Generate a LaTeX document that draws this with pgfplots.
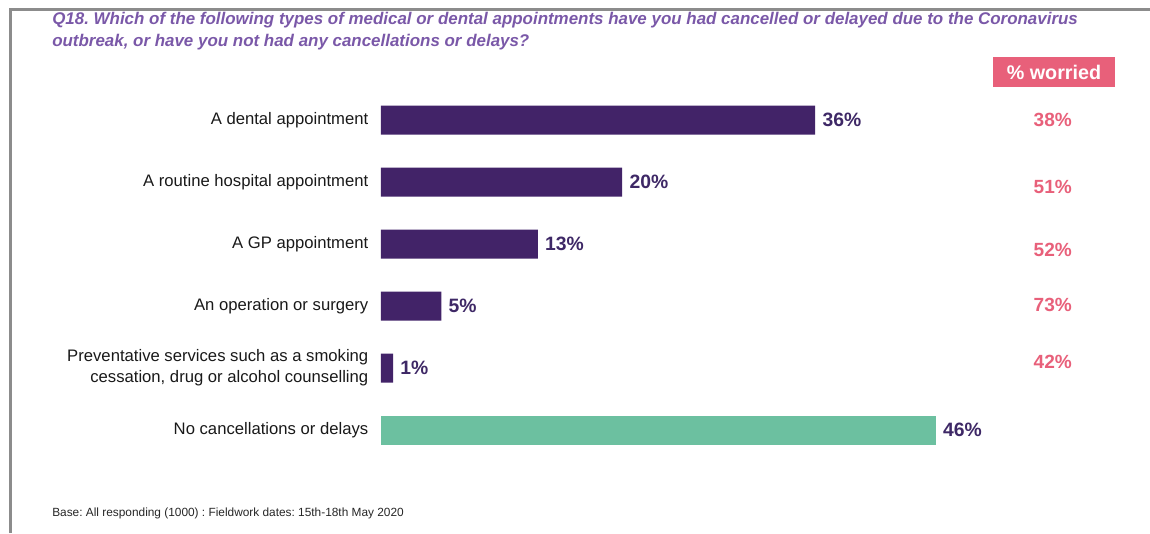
\documentclass[border=0pt]{standalone}
\usepackage{fontspec}
\setmainfont{Liberation Sans}
\usepackage{pgfplots}
\pgfplotsset{compat=1.18}

\definecolor{barpurple}{RGB}{66,35,104}
\definecolor{labpurple}{RGB}{62,40,102}
\definecolor{titlepurple}{RGB}{122,88,168}
\definecolor{nogreen}{RGB}{108,192,160}
\definecolor{worrypink}{RGB}{232,96,122}
\definecolor{framegray}{RGB}{140,140,140}

\begin{document}
\frenchspacing
\begin{tikzpicture}[x=0.75pt,y=0.75pt]
% page in pixel units (1150 x 533), y counted from the bottom
\path[use as bounding box] (0,0) rectangle (1150,533);
\coordinate (axisorigin) at (381,72);
\draw[framegray, line width=2.25pt] (10,0) -- (10,523) -- (1150,523);

\node[anchor=north west, align=left, text=titlepurple, inner sep=0pt,
      font=\fontsize{12.7}{16.5}\selectfont\bfseries\itshape] at (52,521)
  {Q18. Which of the following types of medical or dental appointments have you had cancelled or delayed due to the Coronavirus\\
   outbreak, or have you not had any cancellations or delays?};

\node[fill=worrypink, text=white, inner sep=0pt, minimum width=91.5pt, minimum height=22.5pt,
      font=\fontsize{14.8}{16}\selectfont\bfseries] at (1054,461) {\% worried};

\node[anchor=base west, inner sep=0pt, text=black!85,
      font=\fontsize{8.9}{11}\selectfont] at (52,17)
  {Base: All responding (1000) : Fieldwork dates: 15th-18th May 2020};

\begin{axis}[
  at={(axisorigin)}, anchor=south west,
  scale only axis,
  width=542.7pt, height=279pt,
  xmin=0, xmax=60, ymin=-0.5, ymax=5.5,
  clip=false,
  axis line style={draw=none},
  major tick length=0pt,
  xtick=\empty,
  ytick={0,...,5},
  yticklabels={No cancellations or delays,
    {Preventative services such as a smoking\\cessation, drug or alcohol counselling},
    An operation or surgery, A GP appointment,
    A routine hospital appointment, A dental appointment},
  yticklabel style={align=right, text=black!90, xshift=-6pt,
    font=\fontsize{12.5}{15.75}\selectfont},
  /pgf/number format/assume math mode=true,
]
\addplot[xbar, bar width=21.75pt, bar shift=0pt, fill=barpurple, draw=none,
  point meta=x,
  nodes near coords={\pgfmathprintnumber{\pgfplotspointmeta}\%},
  nodes near coords align=horizontal,
  every node near coord/.append style={text=labpurple, xshift=2pt,
    font=\fontsize{14.5}{16}\selectfont\bfseries}]
  coordinates {(36,5) (20,4) (13,3) (5,2) (1,1)};
\addplot[xbar, bar width=21.75pt, bar shift=0pt, fill=nogreen, draw=none,
  point meta=x,
  nodes near coords={\pgfmathprintnumber{\pgfplotspointmeta}\%},
  nodes near coords align=horizontal,
  every node near coord/.append style={text=labpurple, xshift=2pt,
    font=\fontsize{14.5}{16}\selectfont\bfseries}]
  coordinates {(46,0)};
% % worried column
\addplot[draw=none, mark=none, point meta=explicit,
  nodes near coords={\pgfmathprintnumber{\pgfplotspointmeta}\%},
  every node near coord/.append style={anchor=center, text=worrypink,
    font=\fontsize{14.3}{16}\selectfont\bfseries}]
  coordinates {(55.7,5) [38] (55.7,3.92) [51] (55.7,2.90) [52] (55.7,2.02) [73] (55.7,1.10) [42]};
\end{axis}
\end{tikzpicture}
\end{document}
